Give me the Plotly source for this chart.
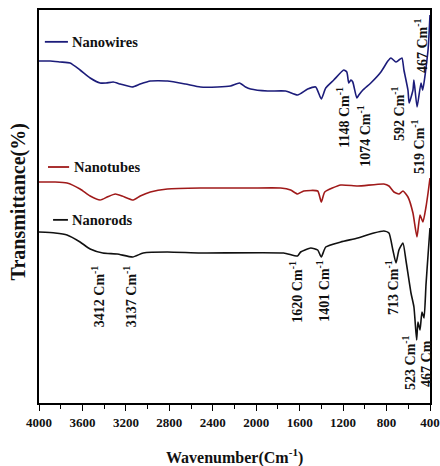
import plotly.graph_objects as go

# ---- data (wavenumber in cm^-1, transmittance in arbitrary offset units) ----
wires_wn = [4000, 3898, 3806, 3714, 3622, 3529, 3437, 3382, 3317, 3252, 3142, 3068, 2975, 2818,
            2652, 2514, 2357, 2237, 2154, 2098, 2052, 1895, 1729, 1620, 1526, 1452, 1401, 1360,
            1286, 1194, 1166, 1148, 1129, 1111, 1074, 1055, 1018, 945, 852, 788, 760, 714, 686,
            658, 640, 603, 592, 557, 548, 519, 483, 467, 418, 400]
wires_t = [342, 342, 341, 340, 333, 325, 320, 320, 321, 319, 316, 319, 322, 322,
           319, 316, 316, 317, 320, 316, 314, 312, 312, 308, 314, 316, 304, 315,
           323, 333, 331, 320, 323, 321, 305, 308, 313, 320, 331, 342, 345, 341, 343,
           345, 333, 313, 300, 313, 323, 296, 320, 313, 353, 388]

tubes_wn = [4000, 3852, 3742, 3622, 3529, 3437, 3372, 3298, 3234, 3132, 3068, 2975, 2818, 2514,
            2052, 1775, 1683, 1620, 1563, 1434, 1401, 1369, 1222, 1065, 825, 778, 732, 686, 649,
            603, 557, 520, 492, 465, 437, 418, 400]
tubes_t = [221, 221, 220, 214, 207, 203, 206, 209, 207, 203, 207, 211, 214, 215,
           215, 215, 213, 209, 212, 212, 201, 211, 218, 217, 219, 217, 211, 209, 212,
           206, 190, 166, 188, 181, 196, 210, 225]

rods_wn = [4000, 3852, 3742, 3622, 3529, 3412, 3280, 3137, 3040, 2818, 2514, 1748, 1620, 1591,
           1498, 1434, 1401, 1360, 1222, 1065, 917, 825, 778, 742, 713, 686, 649, 622, 575,
           548, 523, 511, 492, 474, 455, 437, 418, 400]
rods_t = [171, 170, 168, 161, 154, 150, 149, 146, 150, 151, 150, 150, 147, 151,
          155, 153, 146, 156, 161, 165, 170, 172, 170, 153, 140, 153, 160, 143, 110,
          96, 63, 81, 73, 91, 85, 118, 148, 175]

series_names = ["Nanowires", "Nanotubes", "Nanorods"]
series_colors = ["#1c1c7a", "#a01a1a", "#111111"]

# peak labels: (text, x wavenumber, y value)
peak_labels = [
    ("1148 Cm<sup>-1</sup>", 1203, 286),
    ("1074 Cm<sup>-1</sup>", 1009, 267),
    ("592 Cm<sup>-1</sup>", 695, 290),
    ("519 Cm<sup>-1</sup>", 511, 257),
    ("467 Cm<sup>-1</sup>", 483, 358),
    ("3412 Cm<sup>-1</sup>", 3455, 107),
    ("3137 Cm<sup>-1</sup>", 3160, 107),
    ("1620 Cm<sup>-1</sup>", 1637, 111),
    ("1401 Cm<sup>-1</sup>", 1388, 112),
    ("713 Cm<sup>-1</sup>", 751, 116),
    ("523 Cm<sup>-1</sup>", 594, 41),
    ("467 Cm", 437, 40),
]

x_ticks = [4000, 3600, 3200, 2800, 2400, 2000, 1600, 1200, 800, 400]

FONT = "Liberation Serif"

fig = go.Figure()
for wn, t, name, col in zip([wires_wn, tubes_wn, rods_wn], [wires_t, tubes_t, rods_t],
                            series_names, series_colors):
    fig.add_trace(go.Scatter(x=wn, y=t, mode="lines", name=name,
                             line=dict(color=col, width=1.6, shape="spline", smoothing=0.5),
                             showlegend=False))

# legend-like labels
legend_pos = [(0.015, 0.074, 0.919, 0.079), (0.023, 0.077, 0.6005, 0.084), (0.036, 0.074, 0.466, 0.079)]
for (x0, x1, y, tx), name, col in zip(legend_pos, series_names, series_colors):
    fig.add_shape(type="line", xref="paper", yref="paper", x0=x0, x1=x1, y0=y, y1=y,
                  line=dict(color=col, width=1.8))
    fig.add_annotation(xref="paper", yref="paper", x=tx, y=y, text=name, showarrow=False,
                       xanchor="left", yanchor="middle",
                       font=dict(family=FONT, size=14.5, color="#111", weight="bold"))

for txt, xv, yv in peak_labels:
    fig.add_annotation(x=xv, y=yv, text=txt, showarrow=False, textangle=-90,
                       xanchor="center", yanchor="middle",
                       font=dict(family=FONT, size=14, color="#111", weight="bold"))

fig.add_annotation(xref="paper", yref="paper", x=0.5, y=-0.137, text="Wavenumber(Cm<sup>-1</sup>)",
                   showarrow=False, xanchor="center", yanchor="middle",
                   font=dict(family=FONT, size=16, color="#111", weight="bold"))
fig.add_annotation(xref="paper", yref="paper", x=-0.053, y=0.511, text="Transmittance(%)",
                   showarrow=False, textangle=-90, xanchor="center", yanchor="middle",
                   font=dict(family=FONT, size=20, color="#111", weight="bold"))

fig.update_layout(
    width=440, height=466,
    margin=dict(l=39, r=10, t=10, b=63, autoexpand=False),
    plot_bgcolor="white", paper_bgcolor="white",
    xaxis=dict(range=[4000, 400], tickvals=x_ticks, ticks="outside", ticklen=6, tickwidth=1.3,
               tickcolor="black", showline=True, linecolor="black", linewidth=1.5, mirror=True,
               showgrid=False, zeroline=False, automargin=False,
               minor=dict(dtick=200, tick0=400, ticks="outside", ticklen=4, tickwidth=1.2,
                          tickcolor="black", showgrid=False),
               tickfont=dict(family=FONT, size=13, color="#111", weight="bold"),
               ticklabelstandoff=1),
    yaxis=dict(range=[0, 393], showticklabels=False, ticks="", showline=True, linecolor="black",
               linewidth=1.5, mirror=True, showgrid=False, zeroline=False, automargin=False),
)

fig.write_html(
    "out.html",
    config={"displayModeBar": False},
    post_script="document.body.style.margin='0';document.body.style.padding='0';"
                "document.documentElement.style.overflow='hidden';",
)
